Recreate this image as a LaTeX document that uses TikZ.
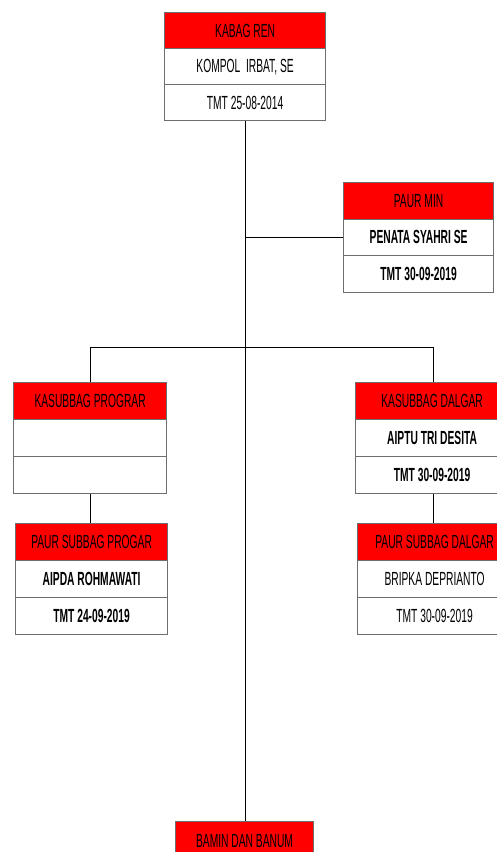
\documentclass[tikz,border=0pt]{standalone}
\usepackage{fontspec}
\setmainfont[FakeStretch=0.54]{Liberation Sans}
\definecolor{hdr}{RGB}{255,0,0}
\definecolor{edge}{RGB}{110,110,110}
\tikzset{
  cell/.style={rectangle, draw=edge, line width=1.2pt, inner sep=0pt, anchor=north west,
    font=\fontsize{19}{19}\selectfont, text=black},
  hdrcell/.style={cell, fill=hdr},
  wcell/.style={cell, fill=white},
  link/.style={draw=black, line width=0.9pt}
}
\begin{document}
\begin{tikzpicture}[x=1pt,y=-1pt]
\useasboundingbox (0,0) rectangle (496,852);
% top box
\node[hdrcell, minimum width=161pt, minimum height=36pt] (top1) at (164,12) {KABAG REN};
\node[wcell, minimum width=161pt, minimum height=36pt] (top2) at (164,48) {KOMPOL\ \ IRBAT, SE};
\node[wcell, minimum width=161pt, minimum height=36pt] (top3) at (164,84) {TMT 25-08-2014};
% paur min
\node[hdrcell, minimum width=150pt, minimum height=36.5pt] (min1) at (343,182) {PAUR MIN};
\node[wcell, minimum width=150pt, minimum height=36.5pt] (min2) at (343,218.5) {\bfseries PENATA SYAHRI SE};
\node[wcell, minimum width=150pt, minimum height=36.5pt] (min3) at (343,255) {\bfseries TMT 30-09-2019};
% kasubbag prograr
\node[hdrcell, minimum width=153pt, minimum height=37pt] (kp1) at (13,382) {KASUBBAG PROGRAR};
\node[wcell, minimum width=153pt, minimum height=37pt] (kp2) at (13,419) {};
\node[wcell, minimum width=153pt, minimum height=37pt] (kp3) at (13,456) {};
% paur subbag prograr
\node[hdrcell, minimum width=152pt, minimum height=37pt] (pp1) at (15,523) {PAUR SUBBAG PROGAR};
\node[wcell, minimum width=152pt, minimum height=37pt] (pp2) at (15,560) {\bfseries AIPDA ROHMAWATI};
\node[wcell, minimum width=152pt, minimum height=37pt] (pp3) at (15,597) {\bfseries TMT 24-09-2019};
% kasubbag dalgar
\node[hdrcell, minimum width=156pt, minimum height=37pt] (kd1) at (355,382) {\hspace*{-3pt}KASUBBAG DALGAR};
\node[wcell, minimum width=156pt, minimum height=37pt] (kd2) at (355,419) {\hspace*{-3pt}\bfseries AIPTU TRI DESITA};
\node[wcell, minimum width=156pt, minimum height=37pt] (kd3) at (355,456) {\hspace*{-3pt}\bfseries TMT 30-09-2019};
% paur subbag dalgar
\node[hdrcell, minimum width=154pt, minimum height=37pt] (pd1) at (357,523) {PAUR SUBBAG DALGAR};
\node[wcell, minimum width=154pt, minimum height=37pt] (pd2) at (357,560) {BRIPKA DEPRIANTO};
\node[wcell, minimum width=154pt, minimum height=37pt] (pd3) at (357,597) {TMT 30-09-2019};
% bamin
\node[hdrcell, minimum width=138pt, minimum height=38pt] (bam) at (175,821) {BAMIN DAN BANUM};
% connectors
\draw[link] (top3.south) -- (bam.north -| top3.south);
\draw[link] (min2.west) -- (min2.west -| top3.south);
\draw[link] (kp1.north) -- ++(0,-35) -| (kd1.north);
\draw[link] (kp3.south) -- (kp3.south |- pp1.north);
\draw[link] (kd3.south) -- (kd3.south |- pd1.north);
\end{tikzpicture}
\end{document}
